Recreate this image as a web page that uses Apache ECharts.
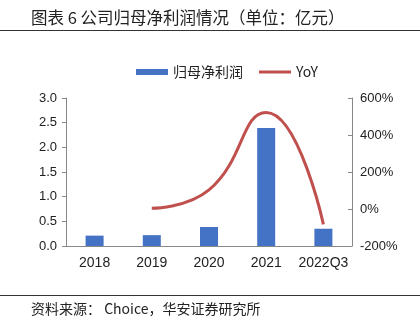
<!DOCTYPE html>
<html>
<head>
<meta charset="utf-8">
<script src="https://cdn.jsdelivr.net/npm/echarts@6/dist/echarts.min.js"></script>
<style>
html,body{margin:0;padding:0;background:#fff;}
#c{width:420px;height:322px;}
</style>
</head>
<body>
<div id="c"></div>
<script>
const categories = ['2018', '2019', '2020', '2021', '2022Q3'];
const profit = [0.21, 0.22, 0.385, 2.39, 0.35];
const yoy = [null, 4, 103, 522, -83];
const leftTicks = [0, 0.5, 1, 1.5, 2, 2.5, 3];
const rightTicks = [-200, 0, 200, 400, 600];

const chart = echarts.init(document.getElementById('c'), null, {renderer: 'canvas'});
const numFont = 'Liberation Sans, Arial, sans-serif';
const cjkFont = 'Noto Sans CJK SC, sans-serif';
chart.setOption({
  animation: false,
  backgroundColor: '#fff',
  title: [{
    text: '图表 6 公司归母净利润情况（单位：亿元）',
    left: 26, top: 4,
    textStyle: {fontFamily: cjkFont, fontSize: 16.5, fontWeight: 'normal', color: '#222'}
  }, {
    text: '资料来源： Choice，华安证券研究所',
    left: 26, top: 297,
    textStyle: {fontFamily: cjkFont, fontSize: 14, fontWeight: 'normal', color: '#222'}
  }],
  graphic: [
    {type: 'line', shape: {x1: 0, y1: 30.5, x2: 420, y2: 30.5}, style: {stroke: '#333', lineWidth: 1.2}},
    {type: 'line', shape: {x1: 0, y1: 295.5, x2: 420, y2: 295.5}, style: {stroke: '#333', lineWidth: 1.2}}
  ],
  legend: {
    top: 60, left: 131,
    itemGap: 16,
    itemWidth: 32, itemHeight: 6,
    textStyle: {fontFamily: cjkFont, fontSize: 14, color: '#222'},
    data: [
      {name: '归母净利润', icon: 'rect'},
      {name: 'YoY', icon: 'path://M0,2 L32,2 L32,5 L0,5 Z', itemStyle: {color: '#C0504D'}}
    ]
  },
  grid: {left: 66, right: 68, top: 98, bottom: 76},
  xAxis: {
    type: 'category',
    data: categories,
    axisLine: {lineStyle: {color: '#888', width: 1}},
    axisTick: {show: false},
    axisLabel: {fontFamily: numFont, fontSize: 14, color: '#222', margin: 10, interval: 0}
  },
  yAxis: [{
    type: 'value', min: 0, max: 3, interval: 0.5,
    axisLine: {show: true, lineStyle: {color: '#888'}},
    axisTick: {show: true, length: 4, lineStyle: {color: '#888'}},
    splitLine: {show: false},
    axisLabel: {fontFamily: numFont, fontSize: 13, color: '#222', margin: 9,
      formatter: v => v.toFixed(1)}
  }, {
    type: 'value', min: -200, max: 600, interval: 200,
    position: 'right',
    axisLine: {show: true, lineStyle: {color: '#888'}},
    axisTick: {show: true, inside: true, length: 4, lineStyle: {color: '#888'}},
    splitLine: {show: false},
    axisLabel: {fontFamily: numFont, fontSize: 13, color: '#222', margin: 8,
      formatter: v => v + '%'}
  }],
  series: [{
    name: '归母净利润', type: 'bar', data: profit,
    barWidth: 18,
    itemStyle: {color: '#4472C4'}
  }, {
    name: 'YoY', type: 'line', yAxisIndex: 1, data: yoy,
    smooth: 0.5, symbol: 'none',
    lineStyle: {color: '#C0504D', width: 3},
    itemStyle: {color: '#C0504D'}
  }]
});
</script>
</body>
</html>
